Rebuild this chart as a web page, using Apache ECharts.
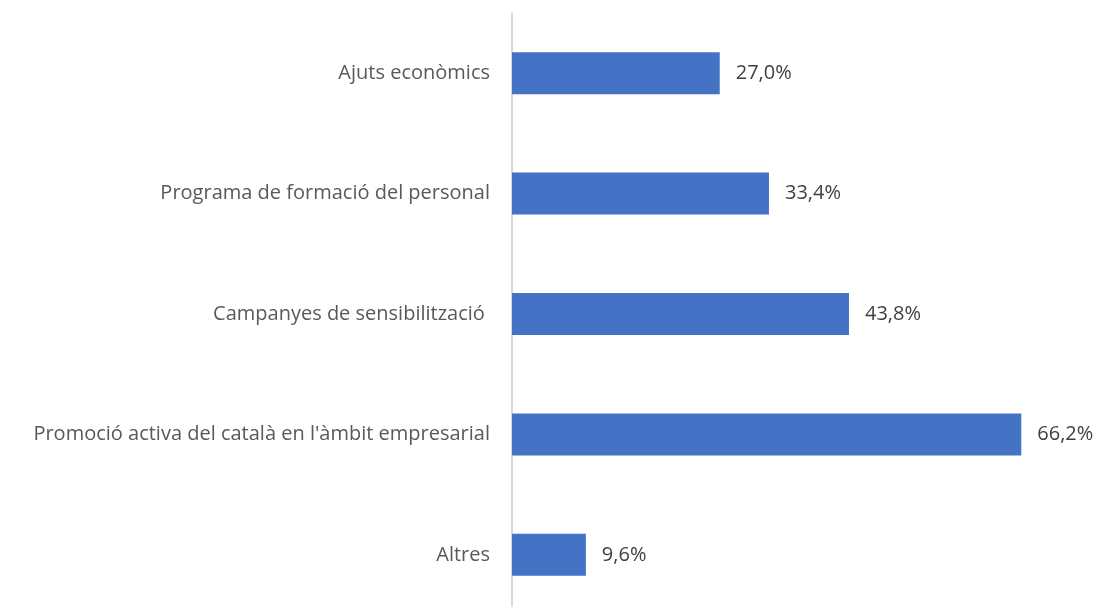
<!DOCTYPE html>
<html>
<head>
<meta charset="utf-8">
<script src="https://cdn.jsdelivr.net/npm/echarts@6/dist/echarts.min.js"></script>
<style>
html, body { margin: 0; padding: 0; background: #fff; }
#chart { width: 1099px; height: 607px; }
</style>
</head>
<body>
<div id="chart"></div>
<script>
// categories top -> bottom
const categories = [
    'Ajuts econòmics',
    'Programa de formació del personal',
    'Campanyes de sensibilització ',
    "Promoció activa del català en l'àmbit empresarial",
    'Altres'
];
const values = [27.0, 33.4, 43.8, 66.2, 9.6];

const chart = echarts.init(document.getElementById('chart'));

chart.setOption({
    animation: false,
    textStyle: { fontFamily: '"Open Sans", sans-serif' },
    grid: {
        left: 512, width: 577, top: 13, height: 602,
        containLabel: false,
        outerBoundsMode: 'none'
    },
    xAxis: {
        type: 'value',
        min: 0,
        max: 75,
        show: false
    },
    yAxis: {
        type: 'category',
        data: categories,
        inverse: true,
        axisLine: { show: true, lineStyle: { color: '#d9d9d9', width: 2 } },
        axisTick: { show: false },
        axisLabel: {
            color: '#595959',
            fontSize: 20,
            margin: 22,
            fontFamily: '"Open Sans", sans-serif'
        }
    },
    series: [{
        type: 'bar',
        data: values,
        barWidth: 42,
        itemStyle: { color: '#4472C4' },
        label: {
            show: true,
            position: 'right',
            distance: 16,
            color: '#404040',
            fontSize: 20,
            fontFamily: '"Open Sans", sans-serif',
            formatter: p => p.value.toFixed(1).replace('.', ',') + '%'
        }
    }]
});
</script>
</body>
</html>
